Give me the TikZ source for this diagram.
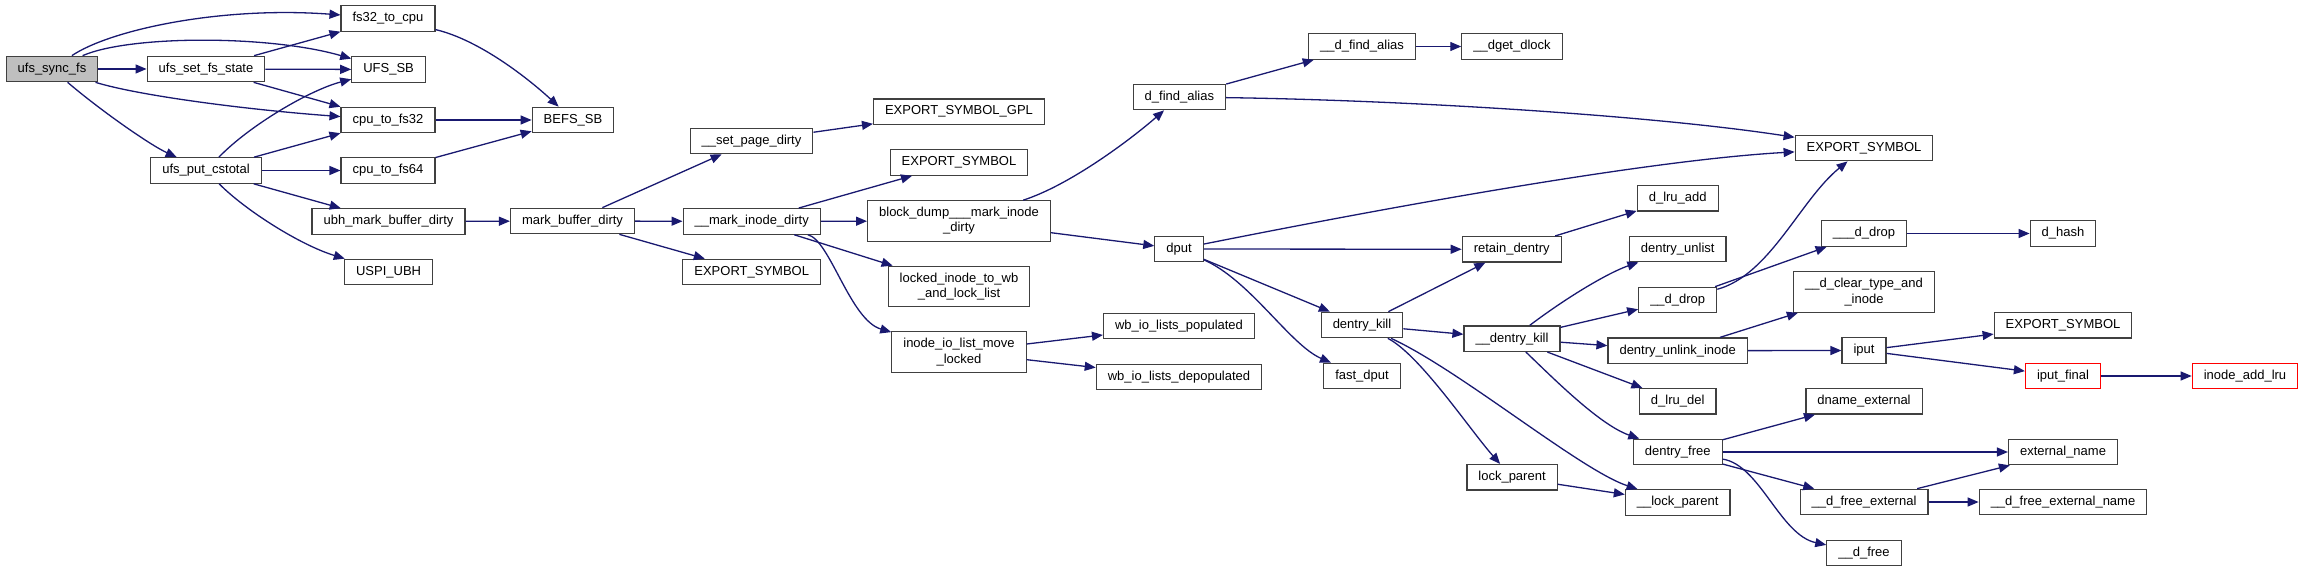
\documentclass[tikz,border=0pt]{standalone}
\usepackage{fontspec}
\setmainfont{Liberation Sans}
\usetikzlibrary{arrows.meta}
\definecolor{edgeblue}{HTML}{191970}
\definecolor{boxgray}{HTML}{404040}
\definecolor{rootgray}{HTML}{BFBFBF}

\begin{document}
\begin{tikzpicture}[
    x=0.5pt, y=-0.5pt,
    >={Triangle[length=5.5pt,width=4.5pt]},
    every node/.style={font=\fontsize{6.5}{7.6}\selectfont},
    fn/.style={draw=boxgray, line width=0.6pt, fill=white, inner xsep=5.75pt,
        inner ysep=0pt, minimum height=12.75pt, align=center},
    fn2/.style={fn, minimum height=20.25pt},
    root/.style={fn, fill=rootgray},
    cut/.style={fn, draw=red},
    call/.style={->, draw=edgeblue, line width=0.65pt},
]
\useasboundingbox (0,0) rectangle (2301,572);
% caller and ufs helpers
\node[root] (sync) at (52,69) {ufs\_sync\_fs};
\node[fn] (setst) at (206,69) {ufs\_set\_fs\_state};
\node[fn] (put) at (206,170.5) {ufs\_put\_cstotal};
\node[fn] (fscpu) at (388,18.5) {fs32\_to\_cpu};
\node[fn] (ufssb) at (388.6,69.5) {UFS\_SB};
\node[fn] (cpu32) at (388,120) {cpu\_to\_fs32};
\node[fn] (cpu64) at (388,170.5) {cpu\_to\_fs64};
\node[fn] (ubh) at (388.5,221.5) {ubh\_mark\_buffer\_dirty};
\node[fn] (uspi) at (388.6,272) {USPI\_UBH};
\node[fn] (befs) at (573,120) {BEFS\_SB};
\node[fn] (mbd) at (572.5,221) {mark\_buffer\_dirty};
% inode dirtying
\node[fn] (spd) at (751.5,141) {\_\_set\_page\_dirty};
\node[fn] (mid) at (751.7,221.4) {\_\_mark\_inode\_dirty};
\node[fn] (expb) at (751.7,272) {EXPORT\_SYMBOL};
\node[fn] (gpl) at (959,111.7) {EXPORT\_SYMBOL\_GPL};
\node[fn] (expa) at (959,162.5) {EXPORT\_SYMBOL};
\node[fn2] (bdm) at (959,221) {block\_dump\_\_\_mark\_inode\\\_dirty};
\node[fn2] (lockwb) at (959,286.5) {locked\_inode\_to\_wb\\\_and\_lock\_list};
\node[fn2] (ioll) at (959,352) {inode\_io\_list\_move\\\_locked};
\node[fn] (dfa) at (1179.4,97) {d\_find\_alias};
\node[fn] (dput) at (1179,249) {dput};
\node[fn] (wbpop) at (1179,326) {wb\_io\_lists\_populated};
\node[fn] (wbdep) at (1179,377) {wb\_io\_lists\_depopulated};
% dentry handling
\node[fn] (udfa) at (1362,46.5) {\_\_d\_find\_alias};
\node[fn] (dget) at (1512,46.5) {\_\_dget\_dlock};
\node[fn] (dkill) at (1362,325) {dentry\_kill};
\node[fn] (fdput) at (1362,376) {fast\_dput};
\node[fn] (retain) at (1511.7,249.3) {retain\_dentry};
\node[fn] (udkill) at (1512,338.7) {\_\_dentry\_kill};
\node[fn] (lockp) at (1512,477.3) {lock\_parent};
\node[fn] (lruadd) at (1677.7,198.3) {d\_lru\_add};
\node[fn] (unlist) at (1677.7,249) {dentry\_unlist};
\node[fn] (udrop) at (1677.7,300) {\_\_d\_drop};
\node[fn] (unlink) at (1677.7,350.7) {dentry\_unlink\_inode};
\node[fn] (lrudel) at (1677.7,401.3) {d\_lru\_del};
\node[fn] (dfree) at (1677.7,452) {dentry\_free};
\node[fn] (ulockp) at (1677.7,502.5) {\_\_lock\_parent};
\node[fn] (expc) at (1864,148) {EXPORT\_SYMBOL};
\node[fn] (uudrop) at (1864,233.5) {\_\_\_d\_drop};
\node[fn2] (clear) at (1864,292) {\_\_d\_clear\_type\_and\\\_inode};
\node[fn] (iput) at (1864,350.5) {iput};
\node[fn] (dname) at (1864,401.3) {dname\_external};
\node[fn] (dfe) at (1864,502) {\_\_d\_free\_external};
\node[fn] (udfree) at (1864,553) {\_\_d\_free};
\node[fn] (dhash) at (2063,233.5) {d\_hash};
\node[fn] (expd) at (2063,325.3) {EXPORT\_SYMBOL};
\node[cut] (iputf) at (2063,376) {iput\_final};
\node[fn] (extname) at (2063,452) {external\_name};
\node[fn] (dfen) at (2063,502) {\_\_d\_free\_external\_name};
\node[cut] (lru) at (2245,376) {inode\_add\_lru};

% calls out of ufs_sync_fs
\draw[call] (sync) .. controls (110,30) and (220,6) .. (fscpu);
\draw[call] (sync) .. controls (130,35) and (270,35) .. (ufssb);
\draw[call] (sync) -- (setst);
\draw[call] (sync) .. controls (140,96) and (250,110) .. (cpu32);
\draw[call] (sync) .. controls (100,110) and (150,145) .. (put);
\draw[call] (setst) -- (fscpu);
\draw[call] (setst) -- (ufssb);
\draw[call] (setst) -- (cpu32);
\draw[call] (put) .. controls (250,125) and (310,90) .. (ufssb);
\draw[call] (put) -- (cpu32);
\draw[call] (put) -- (cpu64);
\draw[call] (put) -- (ubh);
\draw[call] (put) .. controls (245,210) and (300,245) .. (uspi);
\draw[call] (fscpu) .. controls (480,40) and (530,80) .. (befs);
\draw[call] (cpu32) -- (befs);
\draw[call] (cpu64) -- (befs);
\draw[call] (ubh) -- (mbd);
% buffer and inode
\draw[call] (mbd) -- (spd);
\draw[call] (mbd) -- (mid);
\draw[call] (mbd) -- (expb);
\draw[call] (spd) -- (gpl);
\draw[call] (mid) -- (expa);
\draw[call] (mid) -- (bdm);
\draw[call] (mid) -- (lockwb);
\draw[call] (mid) .. controls (830,240) and (850,320) .. (ioll);
\draw[call] (bdm) .. controls (1070,185) and (1130,140) .. (dfa);
\draw[call] (bdm) -- (dput);
\draw[call] (ioll) -- (wbpop);
\draw[call] (ioll) -- (wbdep);
% alias lookup and dput
\draw[call] (dfa) -- (udfa);
\draw[call] (dfa) .. controls (1400,100) and (1650,115) .. (expc);
\draw[call] (udfa) -- (dget);
\draw[call] (dput) .. controls (1400,205) and (1650,160) .. (expc);
\draw[call] (dput) -- (retain);
\draw[call] (dput) -- (dkill);
\draw[call] (dput) .. controls (1250,280) and (1290,345) .. (fdput);
\draw[call] (retain) -- (lruadd);
\draw[call] (dkill) -- (retain);
\draw[call] (dkill) -- (udkill);
\draw[call] (dkill) .. controls (1420,355) and (1470,430) .. (lockp);
\draw[call] (dkill) .. controls (1460,370) and (1580,470) .. (ulockp);
\draw[call] (lockp) -- (ulockp);
% __dentry_kill and below
\draw[call] (udkill) .. controls (1570,295) and (1610,272) .. (unlist);
\draw[call] (udkill) -- (udrop);
\draw[call] (udkill) -- (unlink);
\draw[call] (udkill) -- (lrudel);
\draw[call] (udkill) .. controls (1555,380) and (1600,425) .. (dfree);
\draw[call] (udrop) .. controls (1770,275) and (1800,200) .. (expc);
\draw[call] (udrop) -- (uudrop);
\draw[call] (uudrop) -- (dhash);
\draw[call] (unlink) -- (clear);
\draw[call] (unlink) -- (iput);
\draw[call] (iput) -- (expd);
\draw[call] (iput) -- (iputf);
\draw[call] (iputf) -- (lru);
\draw[call] (dfree) -- (dname);
\draw[call] (dfree) -- (extname);
\draw[call] (dfree) -- (dfe);
\draw[call] (dfree) .. controls (1760,465) and (1780,535) .. (udfree);
\draw[call] (dfe) -- (extname);
\draw[call] (dfe) -- (dfen);
\end{tikzpicture}
\end{document}
